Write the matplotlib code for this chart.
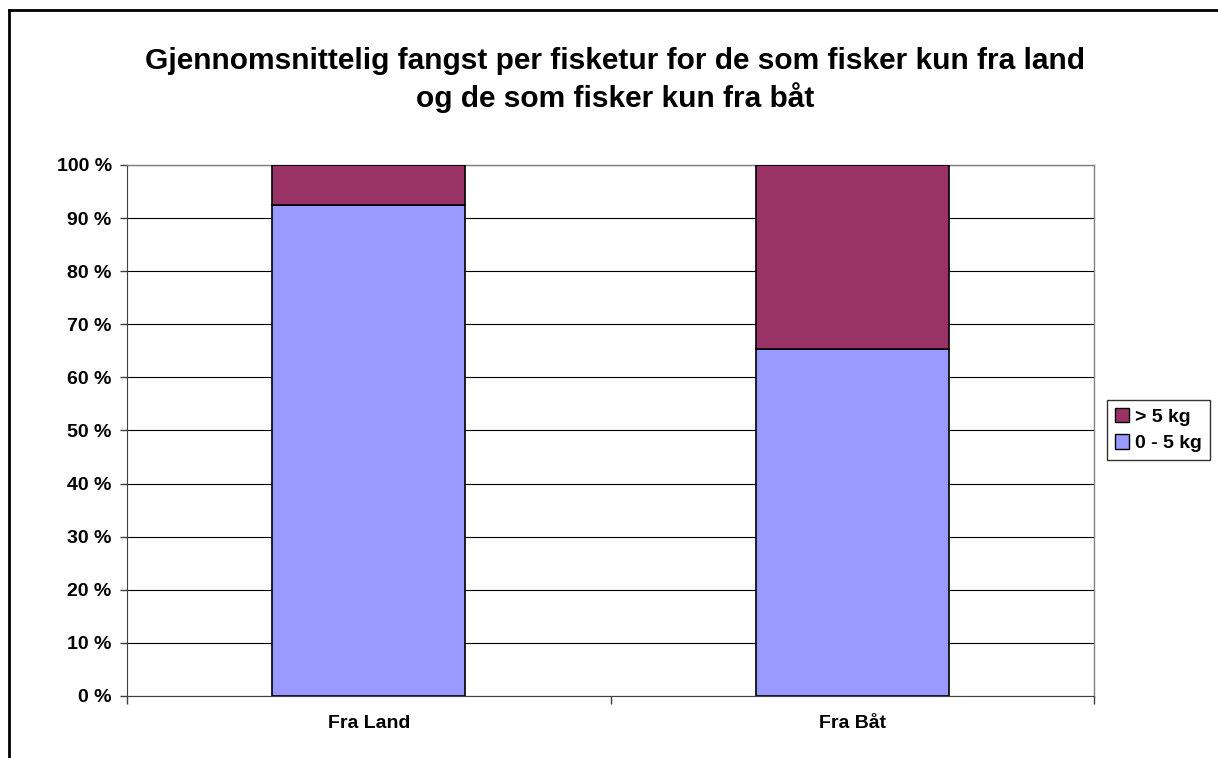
import matplotlib
matplotlib.use("Agg")
import matplotlib.pyplot as plt
from matplotlib.patches import Patch
from matplotlib.lines import Line2D
import numpy as np

categories = ["Fra Land", "Fra Båt"]
low_share = [92.5, 65.3]      # 0 - 5 kg
high_share = [7.5, 34.7]      # > 5 kg
series_labels = ["> 5 kg", "0 - 5 kg"]
yticks = list(range(0, 101, 10))
ytick_labels = [f"{v} %" for v in yticks]

plt.rcParams['font.family'] = ['Liberation Sans', 'DejaVu Sans']

W, H = 1218, 758
fig = plt.figure(figsize=(W / 100, H / 100), dpi=100)
ax = fig.add_axes([127 / W, 1 - 696 / H, (1094 - 127) / W, (696 - 165) / H])

x = np.arange(len(categories))
bw = 0.4
c_low = "#9999FF"
c_high = "#993366"
ax.bar(x, low_share, bw, color=c_low, edgecolor="black", linewidth=1.2, zorder=3)
ax.bar(x, high_share, bw, bottom=low_share, color=c_high, edgecolor="black", linewidth=1.2, zorder=3)

ax.set_xlim(-0.5, len(categories) - 0.5)
ax.set_ylim(0, 100)
ax.set_yticks(yticks)
ax.set_yticklabels(ytick_labels, fontsize=14, fontweight="bold")
ax.yaxis.grid(True, color="black", linewidth=0.8, zorder=0)
ax.set_axisbelow(True)

ax.set_xticks(x)
ax.set_xticklabels(categories, fontsize=14, fontweight="bold")
ax.tick_params(axis="x", length=0, pad=14)
ax.set_xticks(np.arange(-0.5, len(categories), 1.0), minor=True)
ax.tick_params(axis="x", which="minor", length=6, color="#404040", width=1)
ax.tick_params(axis="y", length=5, color="#404040", width=1, pad=6)

for s in ["top", "right"]:
    ax.spines[s].set_color("#808080")
    ax.spines[s].set_linewidth(1)
ax.spines["left"].set_color("#404040")
ax.spines["bottom"].set_color("#404040")

fig.text(615 / W, 1 - 80 / H,
         "Gjennomsnittelig fangst per fisketur for de som fisker kun fra land\nog de som fisker kun fra båt",
         ha="center", va="center", fontsize=21.5, fontweight="bold", linespacing=1.3)

handles = [Patch(facecolor=c_high, edgecolor="black", linewidth=1),
           Patch(facecolor=c_low, edgecolor="black", linewidth=1)]
leg = fig.legend(handles, series_labels, loc="center left",
                 bbox_to_anchor=(1107 / W, 1 - 430 / H),
                 prop={"weight": "bold", "size": 14},
                 frameon=True, fancybox=False, edgecolor="black",
                 handlelength=0.75, handleheight=0.75, handletextpad=0.3,
                 borderpad=0.4, labelspacing=0.45, borderaxespad=0)
leg.get_frame().set_linewidth(1)

# outer chart frame (top and left edges visible)
fig.add_artist(Line2D([9 / W, 1.0], [1 - 10 / H, 1 - 10 / H], color="black", linewidth=2, transform=fig.transFigure))
fig.add_artist(Line2D([9 / W, 9 / W], [0.0, 1 - 10 / H], color="black", linewidth=2, transform=fig.transFigure))

fig.savefig("out.png", dpi=100)
